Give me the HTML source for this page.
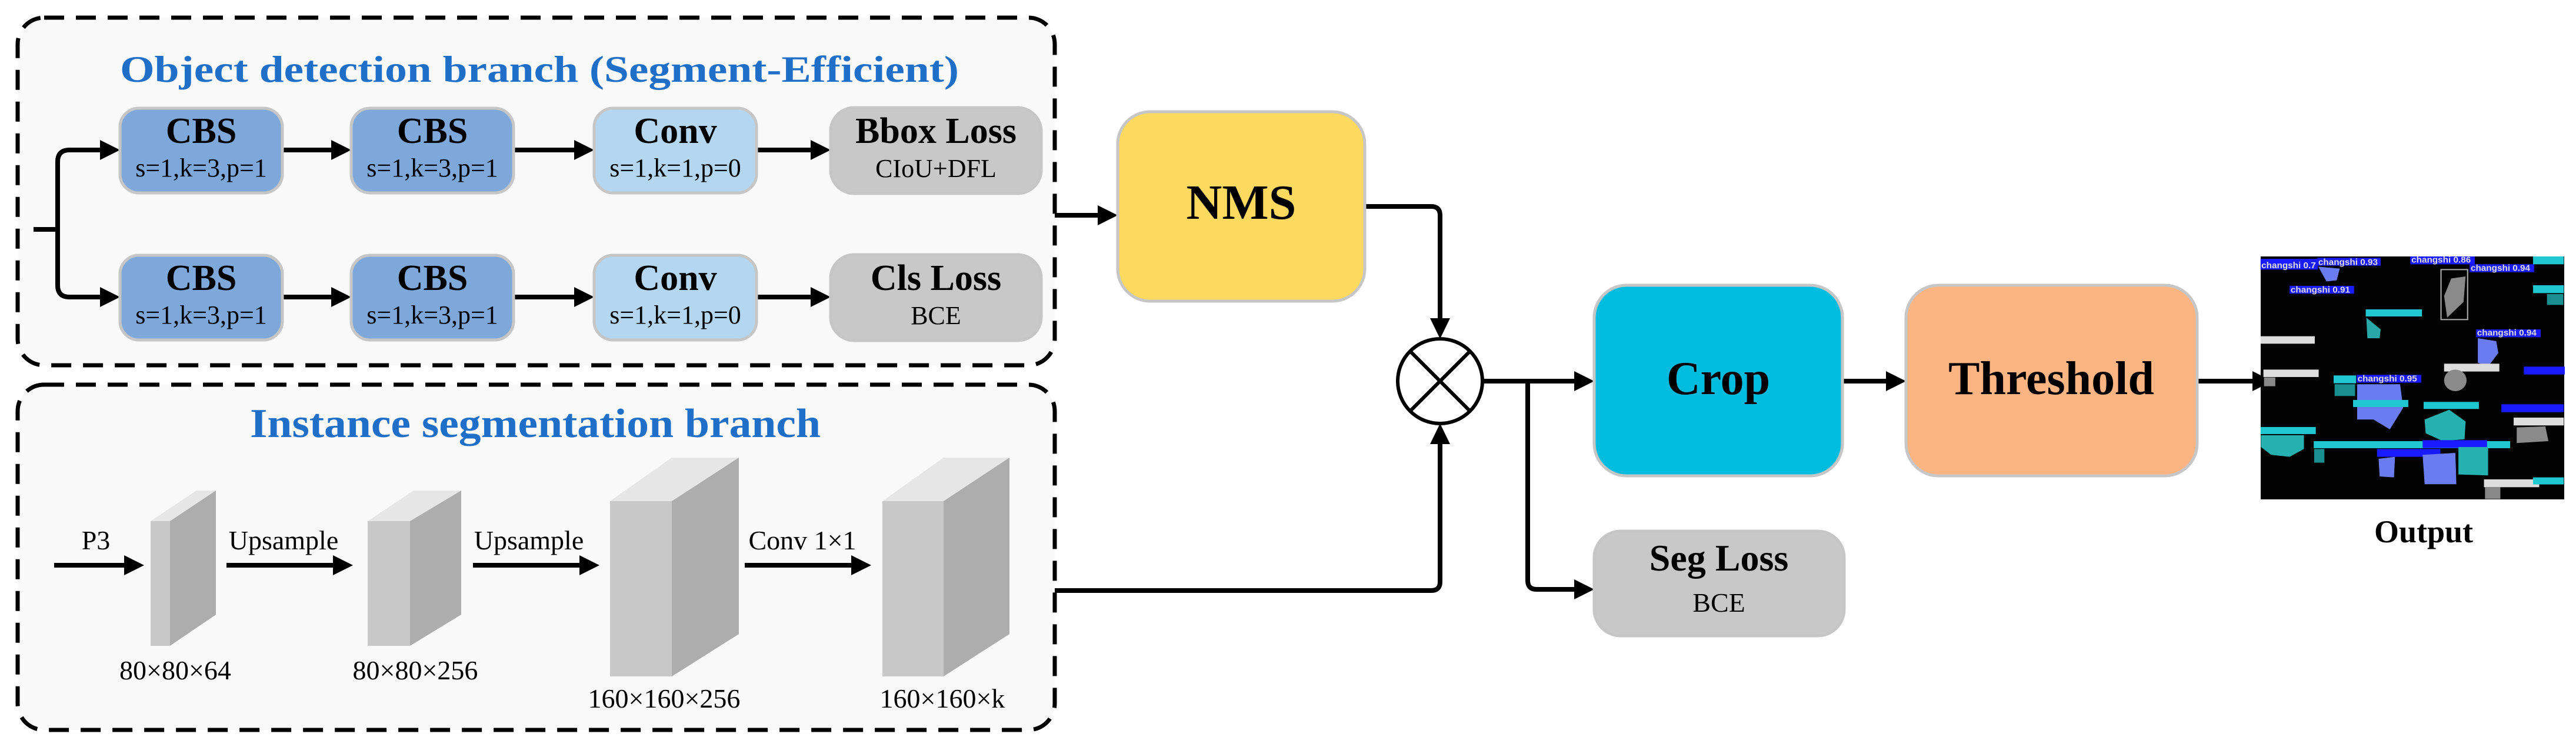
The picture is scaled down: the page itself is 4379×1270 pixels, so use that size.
<!DOCTYPE html>
<html><head><meta charset="utf-8"><style>html,body{margin:0;padding:0;background:#fff}svg{display:block}</style></head>
<body>
<svg width="4379" height="1270" viewBox="0 0 4379 1270" xmlns="http://www.w3.org/2000/svg" font-family="'Liberation Serif', serif">
<rect width="4379" height="1270" fill="#fff"/>
<!-- dashed containers -->
<rect x="30" y="30" width="1763" height="591" rx="45" fill="#f9f9f9" stroke="#000" stroke-width="7" stroke-dasharray="34,20"/>
<rect x="30" y="654" width="1763" height="587" rx="45" fill="#f9f9f9" stroke="#000" stroke-width="7" stroke-dasharray="34,20"/>
<text x="917" y="139" font-size="64" font-weight="bold" fill="#1f6fc8" text-anchor="middle" textLength="1426" lengthAdjust="spacingAndGlyphs">Object detection branch (Segment-Efficient)</text>
<text x="910" y="743" font-size="70" font-weight="bold" fill="#1f6fc8" text-anchor="middle" textLength="970" lengthAdjust="spacingAndGlyphs">Instance segmentation branch</text>

<!-- top branch connectors -->
<g stroke="#000" stroke-width="8" fill="none">
<path d="M57,390 H98"/>
<path d="M172,255 H118 Q98,255 98,275 V485 Q98,505 118,505 H172"/>
<path d="M480,255 H565"/><path d="M873,255 H978"/><path d="M1286,255 H1380"/>
<path d="M480,505 H565"/><path d="M873,505 H978"/><path d="M1286,505 H1380"/>
</g>
<g fill="#000">
<path d="M170,238 L204,255 L170,272 z"/><path d="M563,238 L597,255 L563,272 z"/><path d="M976,238 L1010,255 L976,272 z"/><path d="M1378,238 L1412,255 L1378,272 z"/>
<path d="M170,488 L204,505 L170,522 z"/><path d="M563,488 L597,505 L563,522 z"/><path d="M976,488 L1010,505 L976,522 z"/><path d="M1378,488 L1412,505 L1378,522 z"/>
</g>
<!-- boxes row 1/2 -->
<g stroke="#c6c6c6" stroke-width="5">
<rect x="204" y="184" width="276" height="144" rx="32" fill="#7fa8da"/>
<rect x="597" y="184" width="276" height="144" rx="32" fill="#7fa8da"/>
<rect x="1010" y="184" width="276" height="144" rx="32" fill="#b4d6ef"/>
<rect x="1412" y="183" width="358" height="146" rx="40" fill="#c8c8c8"/>
<rect x="204" y="434" width="276" height="144" rx="32" fill="#7fa8da"/>
<rect x="597" y="434" width="276" height="144" rx="32" fill="#7fa8da"/>
<rect x="1010" y="434" width="276" height="144" rx="32" fill="#b4d6ef"/>
<rect x="1412" y="433" width="358" height="146" rx="40" fill="#c8c8c8"/>
</g>
<g text-anchor="middle" fill="#000">
<g font-size="62" font-weight="bold">
<text x="342" y="243">CBS</text><text x="735" y="243">CBS</text><text x="1148" y="243">Conv</text><text x="1591" y="243">Bbox Loss</text>
<text x="342" y="493">CBS</text><text x="735" y="493">CBS</text><text x="1148" y="493">Conv</text><text x="1591" y="493">Cls Loss</text>
</g>
<g font-size="44">
<text x="342" y="300">s=1,k=3,p=1</text><text x="735" y="300">s=1,k=3,p=1</text><text x="1148" y="300">s=1,k=1,p=0</text><text x="1591" y="301">CIoU+DFL</text>
<text x="342" y="550">s=1,k=3,p=1</text><text x="735" y="550">s=1,k=3,p=1</text><text x="1148" y="550">s=1,k=1,p=0</text><text x="1591" y="551">BCE</text>
</g>
</g>

<!-- cuboids -->
<g>
<polygon points="256,886 334,834 367,834 289,886" fill="#e6e6e6"/>
<polygon points="289,886 367,834 367,1045 289,1098" fill="#adadad"/>
<rect x="256" y="886" width="33" height="212" fill="#c8c8c8"/>
<polygon points="625,886 703,834 784,834 697,886" fill="#e6e6e6"/>
<polygon points="697,886 784,834 784,1045 697,1098" fill="#adadad"/>
<rect x="625" y="886" width="72" height="212" fill="#c8c8c8"/>
<polygon points="1037,852 1142,778 1256,778 1142,852" fill="#e6e6e6"/>
<polygon points="1142,852 1256,778 1256,1078 1142,1150" fill="#adadad"/>
<rect x="1037" y="852" width="105" height="298" fill="#c8c8c8"/>
<polygon points="1500,852 1604,778 1716,778 1604,852" fill="#e6e6e6"/>
<polygon points="1604,852 1716,778 1716,1078 1604,1150" fill="#adadad"/>
<rect x="1500" y="852" width="104" height="298" fill="#c8c8c8"/>
</g>
<g stroke="#000" stroke-width="8">
<path d="M92,961 H215"/><path d="M385,961 H570"/><path d="M804,961 H990"/><path d="M1266,961 H1450"/>
</g>
<g fill="#000">
<path d="M211,944 L245,961 L211,978 z"/><path d="M566,944 L600,961 L566,978 z"/><path d="M985,944 L1019,961 L985,978 z"/><path d="M1447,944 L1481,961 L1447,978 z"/>
</g>
<g text-anchor="middle" font-size="46" fill="#000">
<text x="163" y="934">P3</text><text x="482" y="934">Upsample</text><text x="899" y="934">Upsample</text><text x="1364" y="934">Conv 1×1</text>
<text x="298" y="1155">80×80×64</text><text x="706" y="1155">80×80×256</text><text x="1129" y="1203">160×160×256</text><text x="1602" y="1203">160×160×k</text>
</g>

<!-- right side -->
<g stroke="#000" stroke-width="8" fill="none">
<path d="M1793,366 H1870"/>
<path d="M2320,351 H2433 Q2448,351 2448,366 V545"/>
<path d="M1793,1004 H2433 Q2448,1004 2448,989 V750"/>
<path d="M2520,648 H2680"/>
<path d="M2597,648 V987 Q2597,1002 2612,1002 H2680"/>
<path d="M3132,648 H3210"/>
<path d="M3735,648 H3835"/>
</g>
<g fill="#000">
<path d="M1866,349 L1900,366 L1866,383 z"/>
<path d="M2431,541 L2448,576 L2465,541 z"/>
<path d="M2431,755 L2448,720 L2465,755 z"/>
<path d="M2676,631 L2710,648 L2676,665 z"/>
<path d="M2676,985 L2710,1002 L2676,1019 z"/>
<path d="M3206,631 L3240,648 L3206,665 z"/>
<path d="M3829,631 L3863,648 L3829,665 z"/>
</g>
<circle cx="2448" cy="648" r="72" fill="#fff" stroke="#000" stroke-width="6"/>
<path d="M2397,597 L2499,699 M2499,597 L2397,699" stroke="#000" stroke-width="6"/>

<g stroke="#c6c6c6" stroke-width="5">
<rect x="1900" y="190" width="420" height="322" rx="55" fill="#fed95f"/>
<rect x="2710" y="485" width="422" height="324" rx="55" fill="#00bde0"/>
<rect x="3240" y="485" width="495" height="324" rx="55" fill="#fdb483"/>
<rect x="2710" y="903" width="425" height="178" rx="45" fill="#c8c8c8"/>
</g>
<g text-anchor="middle" font-weight="bold" fill="#000">
<text x="2110" y="372" font-size="84">NMS</text>
<text x="2921" y="670" font-size="80">Crop</text>
<text x="3487" y="670" font-size="80">Threshold</text>
<text x="2922" y="970" font-size="64">Seg Loss</text>
<text x="4120" y="922" font-size="54">Output</text>
</g>
<text x="2922" y="1040" font-size="46" text-anchor="middle">BCE</text>

<!-- output image -->
<rect x="3843" y="436" width="516" height="413" fill="#030303"/>
<g transform="translate(3840,420) scale(0.3478,0.3333)" font-family="'Liberation Sans', sans-serif" font-size="44" font-weight="bold">
<rect x="8" y="60" width="280" height="55" fill="#1a1aff"/><text x="12" y="108" fill="#ddd">changshi 0.7</text>
<rect x="285" y="55" width="310" height="40" fill="#1a1aff"/><text x="290" y="92" fill="#ddd">changshi 0.93</text>
<path d="M290,100 L395,110 L380,170 L330,175 z" fill="#6a7cf0"/>
<rect x="740" y="48" width="315" height="40" fill="#1a1aff"/><text x="745" y="80" fill="#ddd">changshi 0.86</text>
<rect x="1340" y="48" width="150" height="40" fill="#1fc8d0"/>
<rect x="1030" y="88" width="315" height="40" fill="#1a1aff"/><text x="1035" y="122" fill="#ddd">changshi 0.94</text>
<rect x="890" y="115" width="130" height="255" fill="none" stroke="#aaa" stroke-width="6"/>
<path d="M940,160 L1010,150 L1000,280 L920,360 L905,250 z" fill="#8a8a8a"/>
<rect x="150" y="198" width="315" height="40" fill="#1a1aff"/><text x="155" y="232" fill="#ddd">changshi 0.91</text>
<rect x="1340" y="195" width="150" height="40" fill="#1fc8d0"/><rect x="1408" y="240" width="80" height="55" fill="#1a8f8f"/>
<rect x="522" y="318" width="275" height="36" fill="#1fc8d0"/>
<path d="M525,360 L595,420 L590,465 L530,465 z" fill="#2aa7a7"/>
<rect x="8" y="455" width="265" height="38" fill="#ddd"/>
<rect x="1062" y="420" width="315" height="40" fill="#1a1aff"/><text x="1066" y="452" fill="#ddd">changshi 0.94</text>
<path d="M1070,465 L1160,480 L1170,540 L1120,610 L1070,590 z" fill="#6a7cf0"/>
<rect x="905" y="595" width="270" height="40" fill="#ddd"/>
<circle cx="960" cy="680" r="55" fill="#8a8a8a"/>
<rect x="1295" y="610" width="200" height="40" fill="#1a1aff"/>
<rect x="22" y="625" width="270" height="38" fill="#ddd"/><rect x="25" y="665" width="55" height="45" fill="#888"/>
<rect x="365" y="655" width="110" height="40" fill="#1fc8d0"/><path d="M370,700 L470,700 L470,760 L370,760 z" fill="#1a8f8f"/>
<rect x="478" y="652" width="315" height="40" fill="#1a1aff"/><text x="482" y="686" fill="#ddd">changshi 0.95</text>
<path d="M480,700 L690,700 L705,820 L640,930 L560,880 L480,880 z" fill="#6a7cf0"/>
<rect x="460" y="780" width="270" height="36" fill="#1fc8d0"/>
<rect x="805" y="790" width="270" height="36" fill="#1fc8d0"/>
<path d="M810,880 L930,830 L1010,890 L1005,980 L900,990 L815,950 z" fill="#26b1b1"/>
<rect x="1185" y="802" width="305" height="40" fill="#1a1aff"/>
<rect x="1245" y="870" width="245" height="40" fill="#ddd"/>
<path d="M1260,920 L1400,915 L1415,990 L1260,1000 z" fill="#8a8a8a"/>
<rect x="8" y="918" width="270" height="36" fill="#1fc8d0"/>
<path d="M10,960 L220,960 L220,1030 L150,1070 L60,1060 L10,1020 z" fill="#26b1b1"/>
<rect x="268" y="990" width="960" height="36" fill="#1fc8d0"/>
<rect x="800" y="985" width="315" height="40" fill="#1a1aff"/>
<rect x="577" y="1030" width="310" height="40" fill="#1a1aff"/>
<path d="M585,1080 L665,1070 L660,1175 L590,1170 z" fill="#6a7cf0"/>
<path d="M800,1060 L960,1050 L965,1210 L810,1210 z" fill="#6a7cf0"/>
<path d="M975,1020 L1120,1020 L1120,1165 L975,1160 z" fill="#26b1b1"/>
<rect x="270" y="1030" width="50" height="70" fill="#1a8f8f"/>
<rect x="1100" y="1185" width="270" height="40" fill="#ddd"/><rect x="1340" y="1175" width="150" height="36" fill="#1fc8d0"/>
<rect x="1105" y="1225" width="75" height="60" fill="#888"/>
</g>
</svg>
</body></html>
